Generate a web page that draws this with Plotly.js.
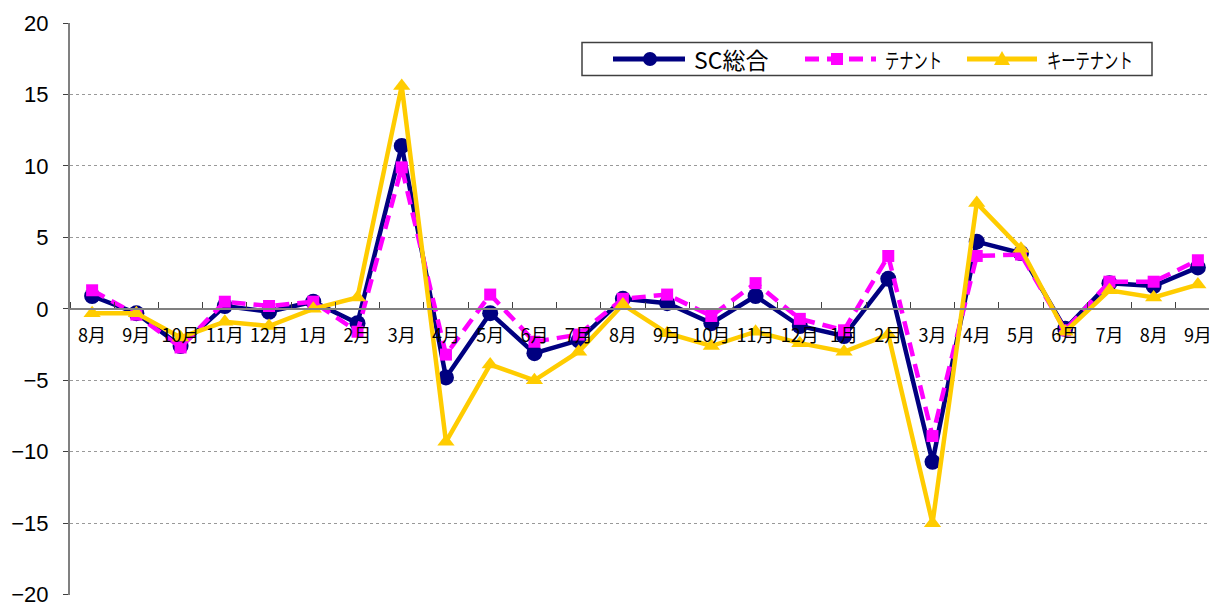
<!DOCTYPE html>
<html>
<head>
<meta charset="utf-8">
<script src="https://cdn.plot.ly/plotly-3.0.1.min.js"></script>
<style>
html,body{margin:0;padding:0;overflow:hidden;background:#fff;}
#chart{width:1230px;height:606px;}
#chart g.annotation[data-index="1"] text, #chart g.annotation[data-index="2"] text{
  transform-box: fill-box; transform-origin: 0 50%; transform: scaleX(0.68);
}
</style>
</head>
<body>
<div id="chart"></div>
<script>
const months = ["8月","9月","10月","11月","12月","1月","2月","3月","4月","5月","6月","7月","8月","9月","10月","11月","12月","1月","2月","3月","4月","5月","6月","7月","8月","9月"];
const scTotal = [0.9,-0.3,-2.6,0.2,-0.2,0.5,-1.0,11.4,-4.8,-0.3,-3.1,-2.2,0.7,0.4,-1.0,0.9,-1.2,-1.9,2.1,-10.7,4.7,3.9,-1.4,1.8,1.6,2.9];
const tenant = [1.3,-0.4,-2.7,0.5,0.2,0.5,-1.6,9.9,-3.2,1.0,-2.3,-1.8,0.7,1.0,-0.5,1.8,-0.7,-1.5,3.7,-8.9,3.7,3.8,-1.5,1.9,1.9,3.4];
const keyTenant = [-0.3,-0.3,-2.0,-0.9,-1.2,0.0,0.8,15.6,-9.3,-3.9,-5.0,-3.0,0.3,-1.7,-2.6,-1.6,-2.4,-3.0,-1.8,-15.0,7.4,4.2,-1.6,1.3,0.8,1.7];
const seriesNames = ["SC総合","テナント","キーテナント"];
const seriesColors = ["#000080","#FF00FF","#FFCC00"];
const yTicks = [-20,-15,-10,-5,0,5,10,15,20];

const xIdx = months.map((_, i) => i);
const jp = '"Noto Sans CJK JP", "Noto Sans", sans-serif';
const DASH = '14px,8px';

const traces = [
  {x: xIdx, y: scTotal, name: seriesNames[0], type: 'scatter', mode: 'lines+markers',
   line: {color: seriesColors[0], width: 4.5}, marker: {symbol: 'circle', size: 16, color: seriesColors[0]}},
  {x: xIdx, y: tenant, name: seriesNames[1], type: 'scatter', mode: 'lines+markers',
   line: {color: seriesColors[1], width: 4.5, dash: DASH}, marker: {symbol: 'square', size: 12, color: seriesColors[1]}},
  {x: xIdx, y: keyTenant, name: seriesNames[2], type: 'scatter', mode: 'lines+markers',
   line: {color: seriesColors[2], width: 4.5}, marker: {symbol: 'triangle-up', size: 15, color: seriesColors[2]}}
];

// page geometry (pixels) -> paper fractions, for the hand-made legend box
const M = {l: 70, r: 10, t: 23, b: 11}, W = 1230, H = 606;
const pw = W - M.l - M.r, ph = H - M.t - M.b;
const px = v => (v - M.l) / pw;
const py = v => (H - M.b - v) / ph;

const legY = 59;
const legItems = [
  {lineFrom: 613, lineTo: 685, mark: 650, text: 692, size: 23},
  {lineFrom: 805, lineTo: 876, mark: 837, text: 883, size: 21},
  {lineFrom: 967, lineTo: 1037, mark: 1002, text: 1045, size: 21}
];

const shapes = [
  {type: 'rect', xref: 'paper', yref: 'paper', x0: px(582), x1: px(1152), y0: py(75.5), y1: py(42.5),
   line: {color: '#404040', width: 1.5}, fillcolor: '#fff', layer: 'above'}
];
const annotations = [];
legItems.forEach((it, i) => {
  shapes.push({type: 'line', xref: 'paper', yref: 'paper', x0: px(it.lineFrom), x1: px(it.lineTo), y0: py(legY), y1: py(legY),
    line: {color: seriesColors[i], width: 5, dash: i === 1 ? DASH : 'solid'}, layer: 'above'});
  const common = {xref: 'paper', yref: 'paper', xsizemode: 'pixel', ysizemode: 'pixel',
    xanchor: px(it.mark), yanchor: py(legY), fillcolor: seriesColors[i], line: {width: 0}, layer: 'above'};
  if (i === 0) shapes.push(Object.assign({type: 'circle', x0: -7, x1: 7, y0: -7, y1: 7}, common));
  if (i === 1) shapes.push(Object.assign({type: 'rect', x0: -6, x1: 6, y0: -6, y1: 6}, common));
  if (i === 2) shapes.push(Object.assign({type: 'path', path: 'M -8 -6 L 8 -6 L 0 8 Z'}, common));
  annotations.push({xref: 'paper', yref: 'paper', x: px(it.text), y: py(legY), xanchor: 'left', yanchor: 'middle',
    text: seriesNames[i], showarrow: false, font: {family: jp, size: it.size, color: '#000'}});
});

const layout = {
  width: W, height: H,
  margin: {l: M.l, r: M.r, t: M.t, b: M.b, autoexpand: false},
  paper_bgcolor: '#fff', plot_bgcolor: '#fff',
  showlegend: false,
  hovermode: false,
  font: {family: jp, color: '#000'},
  shapes: shapes,
  annotations: annotations,
  xaxis: {
    range: [-0.5, 25.5],
    tickmode: 'array', tickvals: xIdx, ticktext: months,
    ticks: '', showgrid: false, zeroline: false,
    anchor: 'free', position: 0.5,
    showline: true, linecolor: '#808080', linewidth: 2,
    tickangle: 0,
    ticklabelstandoff: 10,
    tickfont: {family: jp, size: 18, color: '#000'},
    minor: {ticks: 'inside', ticklen: 6, tick0: -0.5, dtick: 1, tickcolor: '#404040', tickwidth: 1, showgrid: false}
  },
  yaxis: {
    range: [-20.02, 20],
    tickmode: 'array', tickvals: yTicks,
    ticks: 'outside', ticklen: 5, tickcolor: '#404040',
    showline: true, linecolor: '#808080', linewidth: 2,
    showgrid: true, gridcolor: '#999', griddash: 'dot', gridwidth: 1,
    zeroline: false,
    ticklabeloverflow: 'allow',
    ticklabelstandoff: 10,
    tickfont: {family: '"Liberation Sans", Arial, sans-serif', size: 22, color: '#000'}
  }
};

Plotly.newPlot('chart', traces, layout, {displayModeBar: false, staticPlot: true});
</script>
</body>
</html>
